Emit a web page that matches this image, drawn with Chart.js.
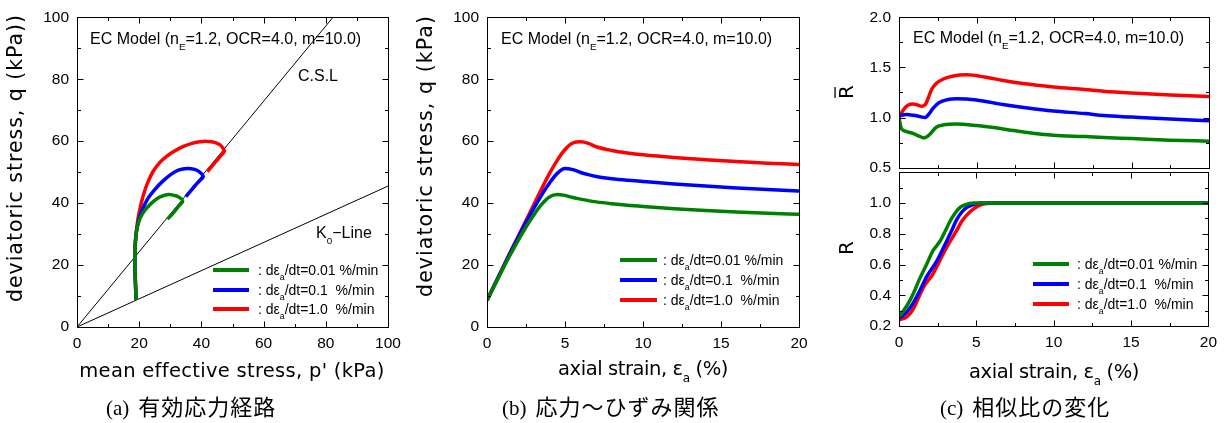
<!DOCTYPE html>
<html lang="ja">
<head>
<meta charset="UTF-8">
<title>EC Model</title>
<script src="https://cdn.jsdelivr.net/npm/chart.js"></script>
<style>
  body { margin: 0; background: #fff; }
  #wrap { position: relative; width: 1224px; height: 423px; overflow: hidden; background: #fff; }
  #wrap canvas { position: absolute; }
  .cap { position: absolute; top: 390px; line-height: 30px; white-space: nowrap; color: #000; }
  .cap .lb { font-family: "Liberation Serif", serif; font-size: 21px; margin-right: 9px; }
  .cap .jp { font-family: "Noto Sans CJK JP", sans-serif; font-size: 22px; letter-spacing: 1px; }
</style>
</head>
<body>
<div id="wrap">
  <canvas id="chartA" width="410" height="395" style="left:0;top:0"></canvas>
  <canvas id="chartB" width="410" height="395" style="left:410px;top:0"></canvas>
  <canvas id="chartC1" width="404" height="185" style="left:820px;top:0"></canvas>
  <canvas id="chartC2" width="404" height="240" style="left:820px;top:155px"></canvas>
  <div class="cap" style="left:106px"><span class="lb">(a)</span><span class="jp">有効応力経路</span></div>
  <div class="cap" style="left:502px"><span class="lb">(b)</span><span class="jp">応力～ひずみ関係</span></div>
  <div class="cap" style="left:940px"><span class="lb">(c)</span><span class="jp">相似比の変化</span></div>
</div>

<script>
  // (a) 有効応力経路  p' - q
  const pGreen = [19.0, 18.8, 18.6, 18.7, 19.0, 19.5, 20.3, 21.3, 22.5, 24.5, 26.7, 29.4, 32.0, 33.4, 34.0, 33.2, 31.8, 30.4, 29.1];
  const qGreen = [8.7, 14, 20, 26, 30, 32.6, 35.2, 37.0, 38.5, 40.5, 42.0, 42.8, 42.3, 41.5, 40.6, 39.6, 37.9, 36.2, 34.9];
  const pBlue = [19.0, 18.8, 18.6, 18.7, 19.0, 19.6, 20.4, 21.5, 23.0, 25.2, 27.6, 30.2, 32.8, 35.3, 37.8, 39.6, 40.6, 39.5, 38.0, 36.5, 35.0];
  const qBlue = [8.7, 14, 20, 26, 30, 33.5, 36.5, 39.0, 41.8, 44.6, 47.1, 49.3, 50.7, 51.2, 50.9, 49.9, 48.5, 47.3, 45.7, 43.9, 42.1];
  const pRed = [19.0, 18.8, 18.6, 18.7, 19.0, 19.4, 20.0, 20.8, 21.9, 23.1, 24.5, 26.5, 28.8, 31.5, 34.2, 37.0, 39.5, 41.2, 43.2, 44.9, 46.1, 46.9, 47.4, 46.3, 44.8, 43.3, 41.9];
  const qRed = [8.7, 14, 20, 26, 30, 33.5, 37.0, 40.6, 44.4, 47.5, 50.3, 53.0, 55.1, 56.9, 58.3, 59.3, 59.8, 60.0, 59.8, 59.4, 58.7, 57.8, 56.8, 55.4, 53.6, 51.8, 50.2];
  const cslP = [0, 100];
  const cslQ = [0, 121.5];
  const k0P = [0, 100];
  const k0Q = [0, 45.5];

  // (b) 応力～ひずみ関係
  const strainB = [0, 0.5, 1, 1.5, 2, 2.5, 3, 3.5, 4, 4.5, 5, 5.5, 6, 6.5, 7, 8, 9, 10, 12, 14, 16, 18, 20];
  const qGreenB = [8.6, 13.6, 18.6, 23.4, 28.0, 32.3, 36.2, 39.6, 42.0, 42.8, 42.5, 41.8, 41.3, 40.8, 40.4, 39.8, 39.3, 38.9, 38.2, 37.6, 37.1, 36.7, 36.4];
  const qBlueB = [8.6, 13.8, 19.0, 24.1, 29.0, 33.8, 38.3, 42.6, 46.4, 49.6, 51.2, 50.8, 49.9, 49.2, 48.6, 47.9, 47.4, 47.0, 46.2, 45.5, 44.9, 44.4, 43.9];
  const qRedB = [8.6, 13.8, 19.0, 24.2, 29.3, 34.4, 39.5, 44.6, 49.5, 53.8, 57.3, 59.4, 59.8, 59.3, 58.2, 57.0, 56.2, 55.6, 54.7, 54.0, 53.4, 52.9, 52.5];

  // (c) 相似比の変化  R bar (上) と R (下)
  const rbarStrainGreen = [0, 0.08, 0.17, 0.5, 0.93, 1.3, 1.6, 1.9, 2.4, 2.9, 3.7, 5, 6.7, 8.3, 9.96, 12, 13.2, 15, 17.5, 20];
  const rbarGreen = [1.0, 0.93, 0.887, 0.86, 0.84, 0.815, 0.797, 0.82, 0.903, 0.928, 0.935, 0.92, 0.887, 0.85, 0.823, 0.81, 0.8, 0.79, 0.775, 0.765];
  const rbarStrainBlue = [0, 0.5, 0.93, 1.3, 1.68, 1.95, 2.22, 2.6, 3.08, 3.72, 5, 6.7, 8.3, 9.96, 12, 13.2, 15, 17.5, 20];
  const rbarBlue = [1.02, 1.03, 1.023, 1.012, 1.0, 1.04, 1.097, 1.15, 1.177, 1.187, 1.175, 1.13, 1.095, 1.065, 1.04, 1.02, 1.005, 0.985, 0.968];
  const rbarStrainRed = [0, 0.3, 0.6, 0.92, 1.2, 1.46, 1.7, 1.9, 2.1, 2.4, 2.86, 3.5, 4.37, 5.5, 6.73, 8, 9.96, 12, 13.2, 15, 17.5, 20];
  const rbarRed = [1.0, 1.08, 1.125, 1.135, 1.125, 1.113, 1.13, 1.2, 1.28, 1.34, 1.385, 1.415, 1.426, 1.405, 1.37, 1.34, 1.306, 1.28, 1.263, 1.245, 1.225, 1.21];

  const rStrainGreen = [0, 0.5, 0.92, 1.3, 1.78, 2.2, 2.64, 3.0, 3.29, 3.6, 3.93, 4.3, 4.8, 6, 10, 15, 20];
  const rGreen = [0.26, 0.33, 0.41, 0.5, 0.6, 0.69, 0.75, 0.82, 0.88, 0.93, 0.97, 0.99, 1.0, 1.0, 1.0, 1.0, 1.0];
  const rStrainBlue = [0, 0.5, 0.92, 1.35, 1.78, 2.43, 3.07, 3.4, 3.72, 4.05, 4.36, 4.8, 5.3, 6, 10, 15, 20];
  const rBlue = [0.25, 0.29, 0.35, 0.43, 0.52, 0.62, 0.75, 0.82, 0.89, 0.94, 0.97, 0.99, 1.0, 1.0, 1.0, 1.0, 1.0];
  const rStrainRed = [0, 0.5, 0.92, 1.57, 2.2, 2.86, 3.3, 3.72, 4.05, 4.36, 4.8, 5.2, 5.7, 6.1, 10, 15, 20];
  const rRed = [0.24, 0.26, 0.31, 0.45, 0.54, 0.67, 0.75, 0.82, 0.88, 0.92, 0.96, 0.985, 0.997, 1.0, 1.0, 1.0, 1.0];

  // 凡例
  const rateLabels = ['0.01', '0.1', '1.0'];
  const seriesColors = ['#008000', '#0000ff', '#ff0000'];

  const SANS = '"Liberation Sans", Arial, sans-serif';
  const WIDE = '"DejaVu Sans", sans-serif';

  function toXY(xs, ys) {
    return xs.map((x, i) => ({ x: x, y: ys[i] }));
  }

  // サブスクリプト付きテキスト
  function drawRich(ctx, t) {
    const fam = t.family || SANS;
    const size = t.size;
    const subSize = size * 0.62;
    ctx.save();
    ctx.translate(t.x, t.y);
    if (t.rotate) ctx.rotate(-Math.PI / 2);
    ctx.fillStyle = '#000';
    ctx.textBaseline = 'alphabetic';
    ctx.textAlign = 'left';
    const hasLS = 'letterSpacing' in ctx;
    const setFont = k => { ctx.font = (k === 'sub' ? subSize : size) + 'px ' + fam; };
    const measure = () => t.parts.reduce((w, p) => { setFont(p[1]); return w + ctx.measureText(p[0]).width; }, 0);
    if (hasLS) ctx.letterSpacing = '0px';
    let w = measure();
    if (t.width && hasLS) {
      const n = t.parts.reduce((s, p) => s + p[0].length, 0);
      ctx.letterSpacing = ((t.width - w) / n).toFixed(2) + 'px';
      w = measure();
    }
    let x = t.align === 'center' ? -w / 2 : 0;
    for (const p of t.parts) {
      setFont(p[1]);
      const dy = p[1] === 'sub' ? size * 0.36 : 0;
      ctx.fillText(p[0], x, dy);
      const tw = ctx.measureText(p[0]).width;
      if (p[1] === 'over') ctx.fillRect(x + 1, -size * 0.73 - 4, tw - 3, 1.3);
      x += tw;
    }
    ctx.restore();
  }

  function ecText(x, y) {
    return { parts: [['EC Model (n'], ['E', 'sub'], ['=1.2, OCR=4.0, m=10.0)']], x: x, y: y, size: 16 };
  }
  const strainTitle = [['axial strain, ε'], ['a', 'sub'], [' (%)']];

  const decoCfg = {
    chartA: {
      xMajor: 20, xMinor: 10, yMajor: 20, yMinor: 10,
      texts: [
        ecText(90, 44),
        { parts: [['C.S.L']], x: 298, y: 81, size: 16 },
        { parts: [['K'], ['0', 'sub'], ['−Line']], x: 316, y: 238, size: 16 },
        { parts: [['deviatoric stress, q (kPa))']], x: 22, y: 158, size: 20.5, family: WIDE, rotate: true, align: 'center', width: 288 },
        { parts: [["mean effective stress, p' (kPa)"]], x: 232, y: 377, size: 19.5, family: WIDE, align: 'center', width: 305 }
      ],
      legend: { x1: 213, x2: 249, tx: 258, ys: [270, 290, 309] }
    },
    chartB: {
      xMajor: 5, xMinor: 2.5, yMajor: 20, yMinor: 10,
      texts: [
        ecText(91, 44),
        { parts: [['deviatoric stress, q (kPa)']], x: 22, y: 156, size: 20.5, family: WIDE, rotate: true, align: 'center', width: 282 },
        { parts: strainTitle, x: 233, y: 375, size: 19.5, family: WIDE, align: 'center', width: 170 }
      ],
      legend: { x1: 210, x2: 247, tx: 253, ys: [260, 280, 300] }
    },
    chartC1: {
      xMajor: 5, xMinor: 2.5, yMajor: 0.5, yMinor: 0.25,
      texts: [
        ecText(93, 43),
        { parts: [['R', 'over']], x: 33, y: 92, size: 20, family: WIDE, rotate: true, align: 'center' }
      ]
    },
    chartC2: {
      xMajor: 5, xMinor: 2.5, yMajor: 0.2, yMinor: 0.1,
      texts: [
        { parts: [['R']], x: 33, y: 93, size: 20, family: WIDE, rotate: true, align: 'center' },
        { parts: strainTitle, x: 234, y: 223, size: 19.5, family: WIDE, align: 'center', width: 170 }
      ],
      legend: { x1: 213, x2: 249, tx: 257, ys: [109, 129, 149] }
    }
  };

  const decoPlugin = {
    id: 'deco',
    afterDraw(chart) {
      const cfg = decoCfg[chart.canvas.id];
      if (!cfg) return;
      const ctx = chart.ctx;
      const a = chart.chartArea;
      const xs = chart.scales.x;
      const ys = chart.scales.y;
      ctx.save();
      ctx.strokeStyle = '#000';
      ctx.lineWidth = 1;
      const L = Math.round(a.left) + 0.5, R = Math.round(a.right) + 0.5;
      const T = Math.round(a.top) + 0.5, B = Math.round(a.bottom) + 0.5;
      ctx.strokeRect(L, T, R - L, B - T);
      const seg = (x1, y1, x2, y2) => { ctx.beginPath(); ctx.moveTo(x1, y1); ctx.lineTo(x2, y2); ctx.stroke(); };
      const isMajor = (v, m) => Math.abs(v / m - Math.round(v / m)) < 1e-6;
      let n = Math.round((xs.max - xs.min) / cfg.xMinor);
      for (let i = 0; i <= n; i++) {
        const v = xs.min + i * cfg.xMinor;
        const px = Math.round(xs.getPixelForValue(v)) + 0.5;
        const len = isMajor(v, cfg.xMajor) ? 6 : 3.5;
        seg(px, B, px, B - len);
        seg(px, T, px, T + len);
      }
      n = Math.round((ys.max - ys.min) / cfg.yMinor);
      for (let i = 0; i <= n; i++) {
        const v = ys.min + i * cfg.yMinor;
        const py = Math.round(ys.getPixelForValue(v)) + 0.5;
        const len = isMajor(v, cfg.yMajor) ? 6 : 3.5;
        seg(L, py, L + len, py);
        seg(R, py, R - len, py);
      }
      if (cfg.legend) {
        const lg = cfg.legend;
        rateLabels.forEach((rate, i) => {
          ctx.strokeStyle = seriesColors[i];
          ctx.lineWidth = 4;
          seg(lg.x1, lg.ys[i], lg.x2, lg.ys[i]);
          drawRich(ctx, {
            parts: [[': dε'], ['a', 'sub'], ['/dt=' + rate.padEnd(4, ' ') + ' %/min']],
            x: lg.tx, y: lg.ys[i] + 5, size: 14
          });
        });
      }
      cfg.texts.forEach(t => drawRich(ctx, t));
      ctx.restore();
    }
  };
  Chart.register(decoPlugin);

  function line(xs, ys, color, width, smooth) {
    return {
      data: toXY(xs, ys),
      borderColor: color,
      borderWidth: width,
      pointRadius: 0,
      fill: false,
      tension: smooth === 'monotone' ? 0.4 : smooth,
      cubicInterpolationMode: smooth === 'monotone' ? 'monotone' : 'default'
    };
  }

  function makeChart(id, datasets, c) {
    return new Chart(document.getElementById(id), {
      type: 'line',
      data: { datasets: datasets },
      options: {
        responsive: false,
        animation: false,
        events: [],
        layout: { padding: c.pad },
        plugins: { legend: { display: false }, tooltip: { enabled: false } },
        scales: {
          x: {
            type: 'linear', min: c.xMin, max: c.xMax, display: c.showX,
            grid: { display: false, drawTicks: false }, border: { display: false },
            ticks: { stepSize: c.xStep, padding: 7, color: '#000', maxRotation: 0, autoSkip: false,
                     font: { family: SANS, size: 15.5 }, callback: v => String(v) },
            afterFit: s => { s.height = c.xH; }
          },
          y: {
            type: 'linear', min: c.yMin, max: c.yMax,
            grid: { display: false, drawTicks: false }, border: { display: false },
            ticks: { stepSize: c.yStep, padding: 8, color: '#000', autoSkip: false,
                     font: { family: SANS, size: 15.5 }, callback: c.yFmt },
            afterFit: s => { s.width = c.yW; }
          }
        }
      }
    });
  }

  const chartA = makeChart('chartA', [
    line(pGreen, qGreen, seriesColors[0], 3.5, 0.3),
    line(pBlue, qBlue, seriesColors[1], 3.5, 0.3),
    line(pRed, qRed, seriesColors[2], 3.5, 0.3),
    line(cslP, cslQ, '#000', 1, 0),
    line(k0P, k0Q, '#000', 1, 0)
  ], {
    pad: { left: 0, top: 15, right: 22, bottom: 0 },
    xMin: 0, xMax: 100, xStep: 20, showX: true, xH: 68,
    yMin: 0, yMax: 100, yStep: 20, yW: 77, yFmt: v => String(v)
  });

  const chartB = makeChart('chartB', [
    line(strainB, qGreenB, seriesColors[0], 3.5, 'monotone'),
    line(strainB, qBlueB, seriesColors[1], 3.5, 'monotone'),
    line(strainB, qRedB, seriesColors[2], 3.5, 'monotone')
  ], {
    pad: { left: 0, top: 15, right: 21, bottom: 0 },
    xMin: 0, xMax: 20, xStep: 5, showX: true, xH: 68,
    yMin: 0, yMax: 100, yStep: 20, yW: 77, yFmt: v => String(v)
  });

  const chartC1 = makeChart('chartC1', [
    line(rbarStrainGreen, rbarGreen, seriesColors[0], 3.5, 'monotone'),
    line(rbarStrainBlue, rbarBlue, seriesColors[1], 3.5, 'monotone'),
    line(rbarStrainRed, rbarRed, seriesColors[2], 3.5, 'monotone')
  ], {
    pad: { left: 0, top: 15, right: 15, bottom: 15 },
    xMin: 0, xMax: 20, xStep: 5, showX: false, xH: 0,
    yMin: 0.5, yMax: 2.0, yStep: 0.5, yW: 79, yFmt: v => v.toFixed(1)
  });

  const chartC2 = makeChart('chartC2', [
    line(rStrainGreen, rGreen, seriesColors[0], 3.5, 'monotone'),
    line(rStrainBlue, rBlue, seriesColors[1], 3.5, 'monotone'),
    line(rStrainRed, rRed, seriesColors[2], 3.5, 'monotone')
  ], {
    pad: { left: 0, top: 15, right: 15, bottom: 0 },
    xMin: 0, xMax: 20, xStep: 5, showX: true, xH: 69,
    yMin: 0.2, yMax: 1.2, yStep: 0.2, yW: 79,
    yFmt: v => (Math.abs(v - 1.2) < 1e-6 ? null : v.toFixed(1))
  });
</script>
</body>
</html>
